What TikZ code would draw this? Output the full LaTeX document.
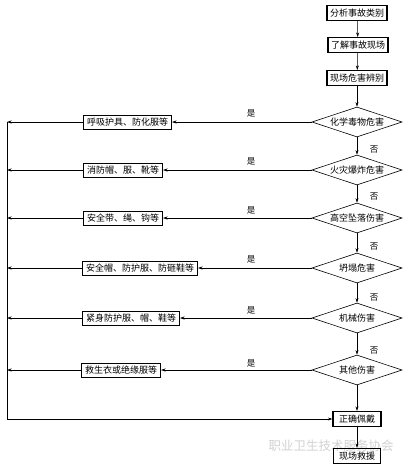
\documentclass[tikz,border=0pt]{standalone}
\usepackage{fontspec}
\newfontfamily\cjk{Noto Sans CJK SC}
\usetikzlibrary{shapes.geometric,arrows.meta}
\begin{document}
\begin{tikzpicture}[x=1pt,y=-1pt,
  font=\cjk\fontsize{9}{10}\selectfont,
  topbox/.style={draw, line width=1.1pt, inner xsep=3pt, inner ysep=2pt, minimum height=15pt},
  pbox/.style={draw, line width=1pt, inner xsep=3.5pt, inner ysep=2pt, minimum height=14pt, anchor=west},
  dia/.style={draw, diamond, aspect=3, minimum width=90pt, minimum height=30pt, inner sep=0pt, line width=0.6pt},
  arr/.style={-{Stealth[length=4.5pt,width=3pt]}, line width=0.5pt},
  lbl/.style={font=\cjk\fontsize{8.5}{9}\selectfont, inner sep=0pt}
]
\useasboundingbox[fill=white] (0,0) rectangle (407,466);
\node[text=gray!35, font=\cjk\fontsize{12.5}{13}\selectfont, anchor=west] (wm) at (265,446) {职业卫生技术服务协会};

\node[topbox] (t1) at (357,13) {分析事故类别};
\node[topbox] (t2) at (358,45) {了解事故现场};
\node[topbox] (t3) at (357,78) {现场危害辨别};

\node[dia] (d1) at (357,122) {化学毒物危害};
\node[dia] (d2) at (357,170) {火灾爆炸危害};
\node[dia] (d3) at (357,218) {高空坠落伤害};
\node[dia] (d4) at (357,268) {坍塌危害};
\node[dia] (d5) at (357,318) {机械伤害};
\node[dia] (d6) at (357,370) {其他伤害};

\node[topbox, minimum width=48pt] (ok) at (357,419) {正确佩戴};
\node[topbox, minimum width=47pt] (rs) at (357,456) {现场救援};

\node[pbox] (b1) at (83,122) {呼吸护具、防化服等};
\node[pbox] (b2) at (83,170) {消防帽、服、靴等};
\node[pbox] (b3) at (83,218) {安全带、绳、钩等};
\node[pbox] (b4) at (82,268) {安全帽、防护服、防砸鞋等};
\node[pbox] (b5) at (82,318) {紧身防护服、帽、鞋等};
\node[pbox] (b6) at (81,370) {救生衣或绝缘服等};

\coordinate (Ltop) at (7,122);
\coordinate (Lbot) at (7,419);

% main vertical flow
\draw[arr] (t1) -- (t2);
\draw[arr] (t2) -- (t3);
\draw[arr] (t3) -- (d1);
\draw[arr] (d1) -- (d2);
\draw[arr] (d2) -- (d3);
\draw[arr] (d3) -- (d4);
\draw[arr] (d4) -- (d5);
\draw[arr] (d5) -- (d6);
\draw[arr] (d6) -- (ok);
\draw[arr] (ok) -- (rs);

% yes branches
\foreach \i in {1,...,6}{
  \draw[arr] (d\i.west) -- (d\i.west -| b\i.east);
  \draw[arr] (b\i.west) -- (b\i.west -| Ltop);
}
\draw[line width=0.5pt] (Ltop) -- (Lbot);
\draw[arr] (Lbot) -- (Lbot -| ok.west);

% labels
\node[lbl] (y1) at (251,113) {是};
\node[lbl] (y2) at (251,161) {是};
\node[lbl] (y3) at (251,210) {是};
\node[lbl] (y4) at (251,259) {是};
\node[lbl] (y5) at (251,310) {是};
\node[lbl] (y6) at (251,363) {是};

\node[lbl] (n1) at (374,150) {否};
\node[lbl] (n2) at (374,197) {否};
\node[lbl] (n3) at (374,247) {否};
\node[lbl] (n4) at (374,298) {否};
\node[lbl] (n5) at (374,351) {否};
\end{tikzpicture}
\end{document}
